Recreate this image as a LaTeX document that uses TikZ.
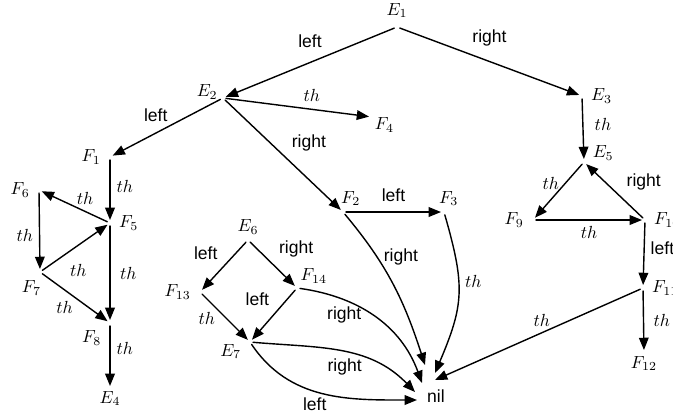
\documentclass[tikz,border=0pt]{standalone}
\usepackage{fontspec}
\setsansfont{Liberation Sans}
\usetikzlibrary{arrows.meta}

\begin{document}
\begin{tikzpicture}[x=0.57pt, y=0.57pt, line cap=round, line join=round]
\tikzset{st/.style={circle, inner sep=0pt, minimum size=3pt},
  tr/.style={-{Triangle[length=7pt,width=5.5pt]}, thick},
  act/.style={font=\sffamily}}
\useasboundingbox (0,0) rectangle (673,-416);

% states (px, y downwards)
\node[st, label=above:$E_1$]   (E1)  at (397,-27)  {};
\node[st, label={[xshift=2pt, yshift=-5pt]155:$E_2$}] (E2) at (223,-98) {};
\node[st, label=right:$E_3$]   (E3)  at (582,-96)  {};
\node[st, label={[xshift=-3.5pt, yshift=4pt]-25:$F_4$}] (F4) at (372,-117) {};
\node[st, label=left:$F_1$]    (F1)  at (110,-157) {};
\node[st, label=right:$F_5$]   (F5)  at (110,-223) {};
\node[st, label=left:$F_6$]    (F6)  at (39,-190)  {};
\node[st, label={[xshift=5pt]-120:$F_7$}] (F7) at (40,-272) {};
\node[st, label=-145:$F_8$]    (F8)  at (110,-323) {};
\node[st, label={[yshift=4pt]below:$E_4$}] (E4) at (110,-389) {};
\node[st, label={[xshift=-5.5pt, yshift=-1.5pt]60:$F_2$}] (F2) at (343,-212) {};
\node[st, label={[xshift=-7pt, yshift=-1.5pt]65:$F_3$}]   (F3) at (444,-212) {};
\node[st, label={[yshift=-2pt]above:$E_6$}] (E6) at (248,-240) {};
\node[st, label=left:$F_{13}$] (F13) at (200,-292) {};
\node[st, label={[xshift=-3pt, yshift=-1.5pt]20:$F_{14}$}] (F14) at (297,-288) {};
\node[st, label={[yshift=3pt]-155:$E_7$}] (E7) at (250,-342) {};
\node[st, label={[yshift=-3.5pt]30:$E_5$}] (E5) at (584,-162) {};
\node[st, label=left:$F_9$]    (F9)  at (533,-220) {};
\node[st, label=right:$F_{10}$] (F10) at (645,-220) {};
\node[st, label=right:$F_{11}$] (F11) at (643,-288) {};
\node[st, label={[yshift=3.5pt]below:$F_{12}$}] (F12) at (644,-353) {};
\node[act, inner sep=1pt]      (nil) at (436,-396) {nil};

% transitions, upper part
\draw[tr] (E1) -- node[act, midway, above=5pt] {left} (E2);
\draw[tr] (E1) -- node[act, midway, above=5pt] {right} (E3);
\draw[tr] (E2) -- node[pos=0.6, above=1pt] {$th$} (F4);
\draw[tr] (E2) -- node[act, pos=0.6, above=3pt] {left} (F1);
\draw[tr] (E2) -- node[act, pos=0.52, above right] {right} (F2);

% left block
\draw[tr] (F1) -- node[pos=0.44, right] {$th$} (F5);
\draw[tr] (F5) -- node[pos=0.34, above] {$th$} (F6);
\draw[tr] (F6) -- node[pos=0.56, left] {$th$} (F7);
\draw[tr] (F7) -- node[pos=0.55, below=7pt] {$th$} (F5);
\draw[tr] (F7) -- node[pos=0.34, below=3pt] {$th$} (F8);
\draw[tr] (F5) -- node[midway, right=2pt] {$th$} (F8);
\draw[tr] (F8) -- node[pos=0.38, right] {$th$} (E4);

% middle block
\draw[tr] (F2) -- node[act, midway, above=2pt] {left} (F3);
\draw[tr] (F2) to[out=-50, in=108] node[act, pos=0.3, right] {right} ([shift={(-11,31)}]nil.center);
\draw[tr] (F3) to[out=-74, in=67, looseness=1.2] node[pos=0.4, right] {$th$} ([shift={(-1,23)}]nil.center);
\draw[tr] (E6) -- node[act, pos=0.5, above left] {left} (F13);
\draw[tr] (E6) -- node[act, pos=0.5, above right] {right} (F14);
\draw[tr] (F14) -- node[act, pos=0.45, above left] {left} (E7);
\draw[tr] (F13) -- node[pos=0.54, left=3pt] {$th$} (E7);
\draw[tr] (F14) to[out=-8, in=110] node[act, pos=0.27, below] {right} ([shift={(-14,13)}]nil.center);
\draw[tr] (E7) to[out=-5, in=134] node[act, pos=0.52, below] {right} ([shift={(-21,4)}]nil.center);
\draw[tr] (E7) to[out=-56, in=180] node[act, pos=0.45, below] {left} ([shift={(-19,-4)}]nil.center);

% right block
\draw[tr] (E3) -- node[pos=0.42, right=3pt] {$th$} (E5);
\draw[tr] (E5) -- node[pos=0.35, left] {$th$} (F9);
\draw[tr] (F10) -- node[act, pos=0.4, above right] {right} (E5);
\draw[tr] (F9) -- node[midway, below] {$th$} (F10);
\draw[tr] (F10) -- node[act, pos=0.4, right] {left} (F11);
\draw[tr] (F11) -- node[midway, right=2pt] {$th$} (F12);
\draw[tr] (F11) -- node[pos=0.48, above] {$th$} ([shift={(-1,16)}]nil.center);
\end{tikzpicture}
\end{document}
